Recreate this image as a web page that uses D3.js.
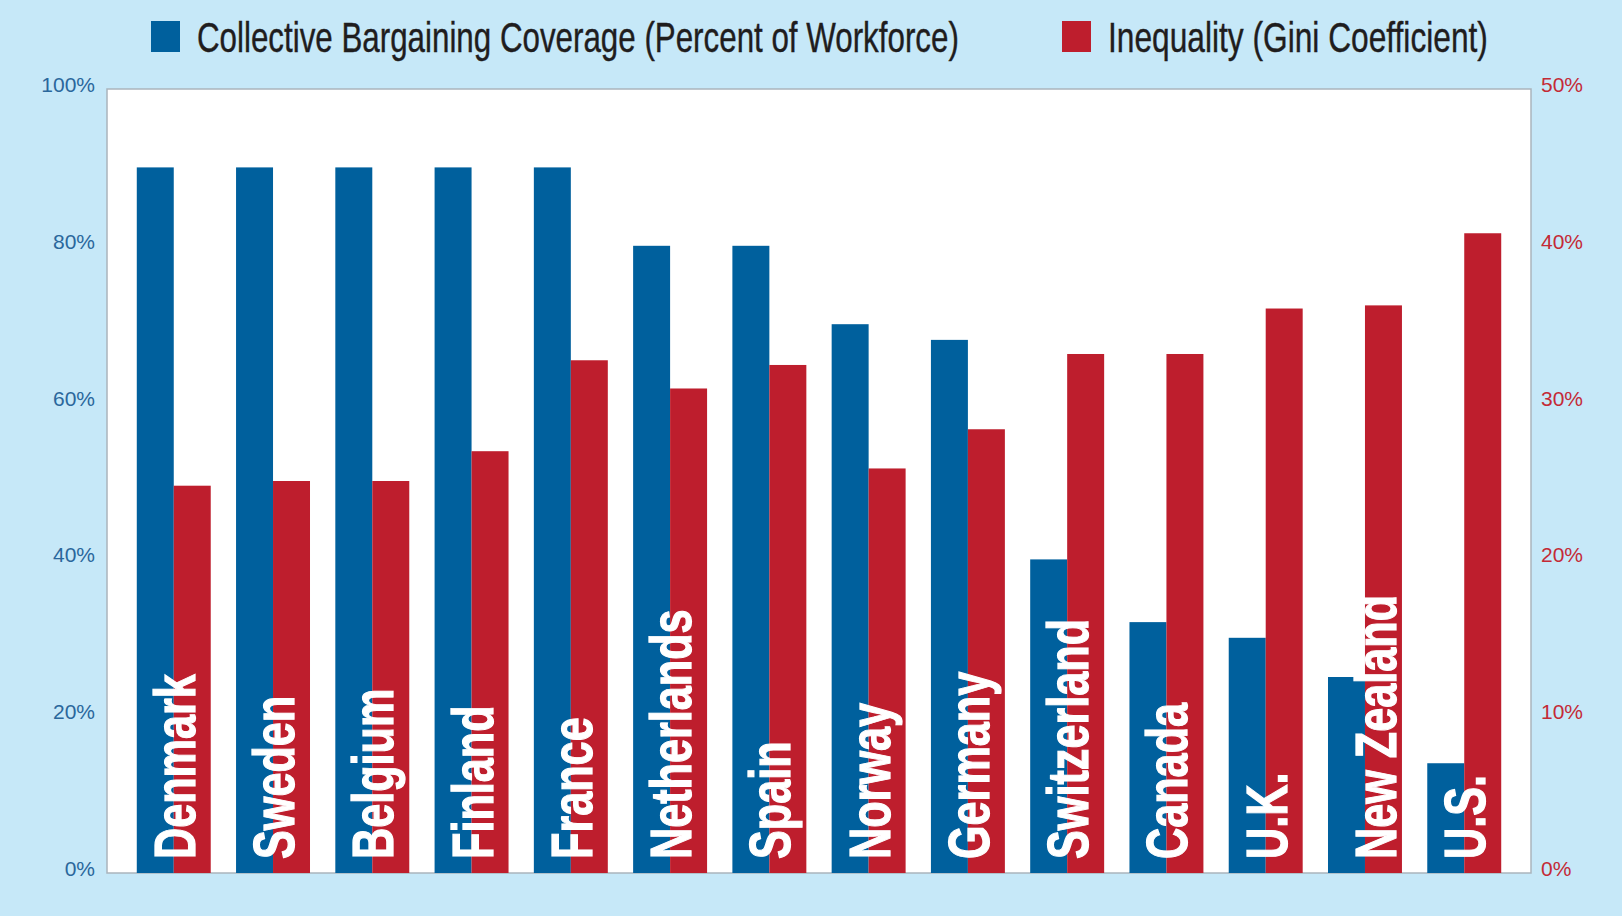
<!DOCTYPE html>
<html>
<head>
<meta charset="utf-8">
<script src="https://cdn.jsdelivr.net/npm/d3@7"></script>
<style>
  html, body { margin: 0; padding: 0; background: #c6e8f8; }
  svg { display: block; }
</style>
</head>
<body>
<svg id="chart" width="1622" height="916"></svg>
<script>
// Collective bargaining coverage vs. income inequality, by country
const countries = ["Denmark", "Sweden", "Belgium", "Finland", "France", "Netherlands", "Spain",
                   "Norway", "Germany", "Switzerland", "Canada", "U.K.", "New Zealand", "U.S."];
const coverage = [90, 90, 90, 90, 90, 80, 80, 70, 68, 40, 32, 30, 25, 14];          // percent of workforce
const gini = [24.7, 25.0, 25.0, 26.9, 32.7, 30.9, 32.4, 25.8, 28.3, 33.1, 33.1, 36.0, 36.2, 40.8]; // Gini, percent
const leftTicks = [0, 20, 40, 60, 80, 100];
const rightTicks = [0, 10, 20, 30, 40, 50];
const seriesNames = ["Collective Bargaining Coverage (Percent of Workforce)", "Inequality (Gini Coefficient)"];

const BLUE = "#00609d";
const RED = "#be1e2d";

const svg = d3.select("#chart");
const plot = { left: 107, right: 1531, top: 89, bottom: 873 };

// background
svg.append("rect").attr("width", 1622).attr("height", 916).attr("fill", "#c6e8f8");

// plot panel
svg.append("rect")
  .attr("x", plot.left).attr("y", plot.top)
  .attr("width", plot.right - plot.left).attr("height", plot.bottom - plot.top)
  .attr("fill", "#ffffff").attr("stroke", "#aab4bc").attr("stroke-width", 1.5);

const x0 = d3.scaleBand().domain(countries).range([plot.left, plot.right])
  .paddingInner(0.255).paddingOuter(0.3);
const x1 = d3.scaleBand().domain(["coverage", "gini"]).range([0, x0.bandwidth()]).padding(0);
const yL = d3.scaleLinear().domain([0, 100]).range([plot.bottom, plot.top]);
const yR = d3.scaleLinear().domain([0, 50]).range([plot.bottom, plot.top]);

const rows = countries.map((c, i) => ({ country: c, coverage: coverage[i], gini: gini[i] }));

const groups = svg.append("g").selectAll("g").data(rows).join("g")
  .attr("transform", d => `translate(${x0(d.country)},0)`);

groups.append("rect")
  .attr("x", x1("coverage")).attr("width", x1.bandwidth())
  .attr("y", d => yL(d.coverage)).attr("height", d => yL(0) - yL(d.coverage))
  .attr("fill", BLUE);

groups.append("rect")
  .attr("x", x1("gini")).attr("width", x1.bandwidth())
  .attr("y", d => yR(d.gini)).attr("height", d => yR(0) - yR(d.gini))
  .attr("fill", RED);

// country names, white, vertical across each pair of bars
const LABEL_BASE = 859, LABEL_SQUEEZE = 0.745;
const labels = groups.append("text")
  .text(d => d.country)
  .attr("font-family", "'Liberation Sans', Arial, sans-serif")
  .attr("font-weight", "bold")
  .attr("font-size", 58)
  .attr("fill", "#ffffff")
  .attr("stroke", "#ffffff")
  .attr("stroke-width", 1.2);
labels.each(function (d) {
  // a name that rises above its blue bar is nudged over the red bar so it stays legible
  const len = this.getComputedTextLength() * LABEL_SQUEEZE;
  const nudge = (LABEL_BASE - len < yL(d.coverage)) ? 10 : 0;
  d3.select(this).attr("transform",
    `translate(${x0.bandwidth() / 2 + 21 + nudge},${LABEL_BASE}) rotate(-90) scale(${LABEL_SQUEEZE},1)`);
});

// left axis
const axL = svg.append("g").attr("transform", `translate(${plot.left - 12},0)`)
  .call(d3.axisLeft(yL).tickValues(leftTicks).tickFormat(d => d + "%").tickSize(0).tickPadding(0));
axL.select(".domain").remove();
axL.selectAll("text")
  .attr("font-family", "'Liberation Sans', Arial, sans-serif")
  .attr("font-size", 21).attr("fill", "#2a679c").attr("dy", "0.12em");

// right axis
const axR = svg.append("g").attr("transform", `translate(${plot.right + 10},0)`)
  .call(d3.axisRight(yR).tickValues(rightTicks).tickFormat(d => d + "%").tickSize(0).tickPadding(0));
axR.select(".domain").remove();
axR.selectAll("text")
  .attr("font-family", "'Liberation Sans', Arial, sans-serif")
  .attr("font-size", 21).attr("fill", "#c42a36").attr("dy", "0.12em");

// legend
const legend = [
  { name: seriesNames[0], color: BLUE, x: 151, tx: 197, len: 762 },
  { name: seriesNames[1], color: RED, x: 1062, tx: 1108, len: 380 }
];
const lg = svg.append("g").selectAll("g").data(legend).join("g");
lg.append("rect").attr("x", d => d.x).attr("y", 21).attr("width", 29).attr("height", 31).attr("fill", d => d.color);
lg.append("text")
  .attr("font-family", "'Liberation Sans Narrow', 'Liberation Sans', Arial, sans-serif")
  .attr("font-size", 43).attr("fill", "#1f1d1e")
  .attr("stroke", "#1f1d1e").attr("stroke-width", 0.4)
  .text(d => d.name)
  .each(function (d) {
    const k = d.len / this.getComputedTextLength();
    d3.select(this).attr("transform", `translate(${d.tx},52) scale(${k},1)`);
  });
</script>
</body>
</html>
